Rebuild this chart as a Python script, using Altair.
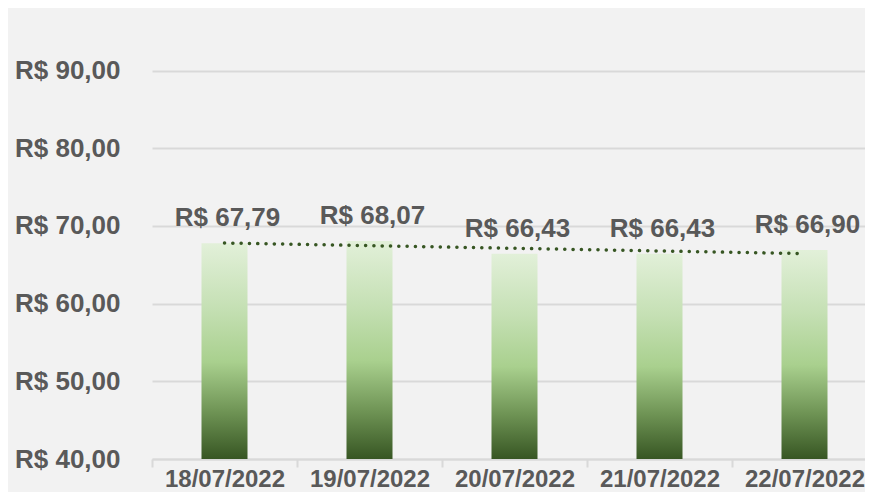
import json
import altair as alt
import pandas as pd

dates = ["18/07/2022", "19/07/2022", "20/07/2022", "21/07/2022", "22/07/2022"]
prices = [67.79, 68.07, 66.43, 66.43, 66.90]
idx = [1, 2, 3, 4, 5]
y_ticks = [40, 50, 60, 70, 80, 90]

df = pd.DataFrame({"date": dates, "price": prices, "idx": idx})

FONT = "Liberation Sans"
GRAY = "#595959"
GRID = "#d9d9d9"
brl = "'R$ ' + replace(format({v}, '.2f'), '.', ',')"

x_scale = alt.Scale(paddingInner=0, paddingOuter=0, range=[0, 725])
x_enc = alt.X(
    "date:N",
    sort=dates,
    title=None,
    scale=x_scale,
    axis=alt.Axis(
        labelAngle=0,
        labelFont=FONT,
        labelFontSize=24,
        labelFontWeight="bold",
        labelColor=GRAY,
        labelPadding=0,
        tickBand="extent",
        tickColor=GRID,
        tickWidth=2,
        tickSize=8,
        domainColor=GRID,
        domainWidth=2,
        grid=False,
    ),
)
y_scale = alt.Scale(domain=[40, 96], nice=False, zero=False)

bars = alt.Chart(df).mark_bar(
    size=46,
    color=alt.Gradient(
        gradient="linear",
        x1=0, x2=0, y1=0, y2=1,
        stops=[
            alt.GradientStop(color="#e2f0d9", offset=0),
            alt.GradientStop(color="#c5e0b4", offset=0.3),
            alt.GradientStop(color="#a9d08e", offset=0.55),
            alt.GradientStop(color="#6f9455", offset=0.78),
            alt.GradientStop(color="#375623", offset=1),
        ],
    ),
).encode(
    x=x_enc,
    y=alt.Y(
        "price:Q",
        scale=y_scale,
        title=None,
        axis=alt.Axis(
            values=y_ticks,
            labelExpr=brl.format(v="datum.value"),
            labelFont=FONT,
            labelFontSize=26,
            labelFontWeight="bold",
            labelColor=GRAY,
            labelPadding=32,
            ticks=False,
            domain=False,
            gridColor=GRID,
            gridWidth=2,
        ),
    ),
    y2=alt.datum(40),
)

labels = alt.Chart(df).transform_calculate(
    lbl=brl.format(v="datum.price")
).mark_text(
    font=FONT, fontSize=26, fontWeight="bold", color=GRAY, dy=-17, dx=3, baseline="alphabetic"
).encode(
    x=alt.X("date:N", sort=dates, scale=x_scale),
    y=alt.Y("price:Q", scale=y_scale),
    text="lbl:N",
)

trend = alt.Chart(df).transform_regression(
    "idx", "price", method="linear"
).transform_calculate(
    date=json.dumps(dates) + "[round(datum.idx) - 1]"
).mark_line(
    color="#375623", strokeWidth=3.5, strokeDash=[0.1, 8.2], strokeCap="round"
).encode(
    x=alt.X("date:N", sort=dates, scale=x_scale),
    y=alt.Y("price:Q", scale=y_scale),
)

chart = alt.layer(bars, trend, labels).properties(
    width=713,
    height=435,
    background="#f2f2f2",
    padding={"left": 144, "top": 16, "right": 0, "bottom": 33},
    autosize=alt.AutoSizeParams(type="none"),
).configure_view(stroke=None)

chart.save("out.html", embed_options={"renderer": "svg", "actions": False})
